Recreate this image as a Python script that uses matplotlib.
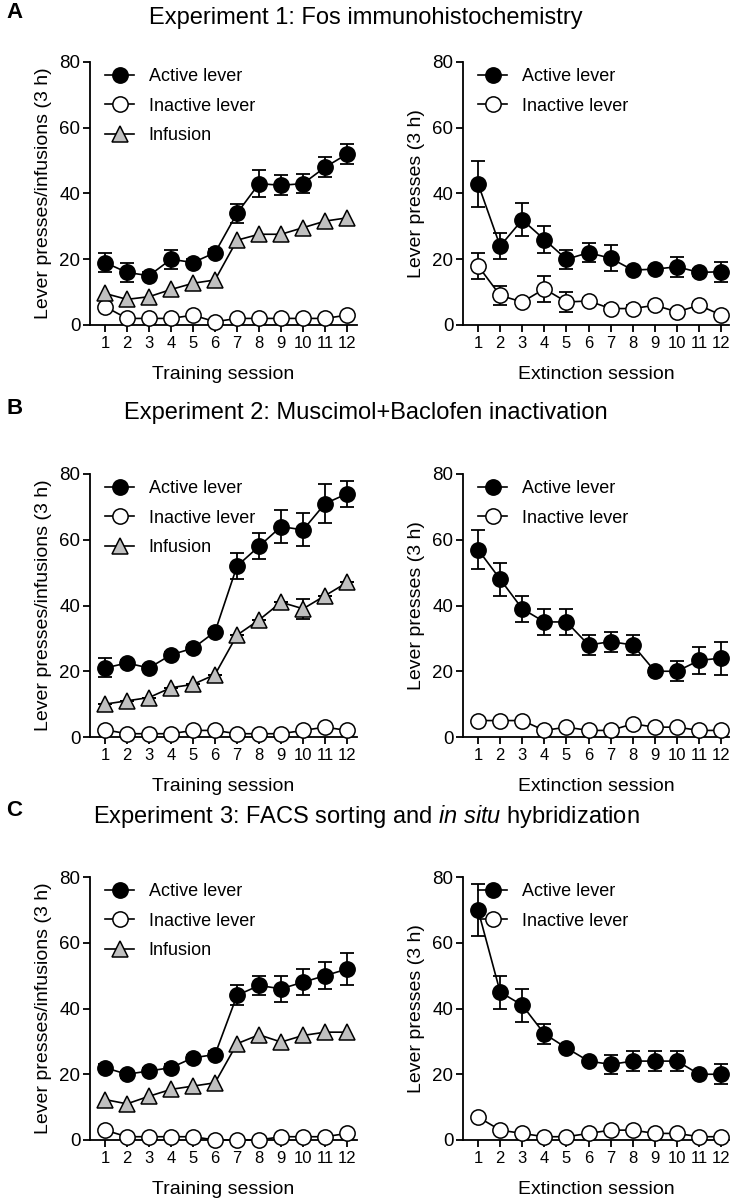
import numpy as np, matplotlib
matplotlib.use('Agg')
import matplotlib.pyplot as plt

matplotlib.rcParams.update({'font.size': 13, 'font.family': 'Liberation Sans',
                            'mathtext.fontset': 'custom',
                            'mathtext.rm': 'Liberation Sans',
                            'mathtext.it': 'Liberation Sans:italic'})

sessions = np.arange(1, 13)

# ---- Experiment 1 ----
e1_train_active = [19, 16, 15, 20, 19, 22, 34, 43, 42.5, 43, 48, 52]
e1_train_active_err = [2.8, 2.9, 1, 2.9, 1, 1, 2.9, 4, 3, 2.9, 3.1, 3]
e1_train_inactive = [5.6, 2, 2, 2, 3, 1, 2, 2, 2, 2, 2, 3]
e1_train_infusion = [9.6, 7.8, 8.6, 10.8, 12.7, 13.7, 25.8, 27.6, 27.6, 29.6, 31.6, 32.6]
e1_ext_active = [43, 24, 32, 26, 20, 22, 20.3, 16.7, 17, 17.7, 16, 16.2]
e1_ext_active_err = [7, 4, 5, 4, 2.9, 2.9, 3.9, 1, 1, 3, 1, 3]
e1_ext_inactive = [18, 9, 7, 11, 7, 7.3, 5, 5, 6, 4, 6, 3]
e1_ext_inactive_err = [4, 3, 1, 4, 3, 1, 1, 1, 1, 1, 1, 1]

# ---- Experiment 2 ----
e2_train_active = [21, 22.5, 21, 25, 27, 32, 52, 58, 64, 63, 71, 74]
e2_train_active_err = [2.9, 1, 1, 1, 1, 1, 4, 4, 5, 5, 6, 4]
e2_train_inactive = [2.2, 1, 1, 1, 2, 2, 1, 1, 1, 2, 3, 2]
e2_train_infusion = [10, 11, 12, 15, 16, 19, 31, 35.6, 41, 39, 43, 47]
e2_train_infusion_err = [0, 0, 0, 0, 0, 0, 0, 0, 0, 3, 0, 0]
e2_ext_active = [57, 48, 39, 35, 35, 28, 29, 28, 20, 20, 23.3, 24]
e2_ext_active_err = [6, 5, 4, 4, 4, 3, 3, 3, 1, 3, 4, 5]
e2_ext_inactive = [5, 5, 5, 2, 3, 2, 2, 4, 3, 3, 2, 2]

# ---- Experiment 3 ----
e3_train_active = [22, 20, 21, 22, 25, 26, 44, 47, 46, 48, 50, 52]
e3_train_active_err = [1, 1, 1, 1, 1, 1, 3, 3, 4, 4, 4, 5]
e3_train_inactive = [3, 1, 1, 1, 1, 0, 0, 0, 1, 1, 1, 2]
e3_train_infusion = [12.3, 11, 13.3, 15.4, 16.4, 17.4, 29.3, 32, 29.8, 31.8, 32.8, 32.8]
e3_ext_active = [70, 45, 41, 32.3, 28, 24, 23, 24, 24, 24, 20, 20]
e3_ext_active_err = [8, 5, 5, 3, 1, 1, 3, 3, 3, 3, 1, 3]
e3_ext_inactive = [7, 3, 2, 1, 1, 2, 3, 3, 2, 2, 1, 1]

titles = ['Experiment 1: Fos immunohistochemistry',
          'Experiment 2: Muscimol+Baclofen inactivation',
          'Experiment 3: FACS sorting and $\\it{in\\ situ}$ hybridization']
letters = ['A', 'B', 'C']

fig = plt.figure(figsize=(7.32, 12), dpi=100)

MS = 11
def series(ax, y, err, marker, fc, label):
    if err is not None:
        ax.errorbar(sessions, y, yerr=err, fmt='none', ecolor='black', elinewidth=1.3,
                    capsize=5, capthick=1.3, zorder=2, clip_on=False)
    ax.plot(sessions, y, marker=marker, color='black', mfc=fc, mec='black', ms=MS,
            mew=1.1, lw=1.2, label=label, zorder=3, clip_on=False)

def style(ax, xlabel, ylabel, right_end, leg_x):
    ax.set_xlim(0.32, right_end)
    ax.set_ylim(0, 80)
    ax.set_xticks(sessions)
    ax.set_yticks([0, 20, 40, 60, 80])
    for s in ['top', 'right']:
        ax.spines[s].set_visible(False)
    for s in ['left', 'bottom']:
        ax.spines[s].set_linewidth(1.3)
    ax.tick_params(axis='both', direction='out', width=1.3, length=5)
    ax.tick_params(axis='x', labelsize=12, pad=3)
    ax.tick_params(axis='y', labelsize=13.5, pad=2)
    ax.set_xlabel(xlabel, fontsize=14, labelpad=11)
    ax.set_ylabel(ylabel, fontsize=14, labelpad=5)
    ax.legend(loc='upper left', frameon=False, fontsize=13, handlelength=1.6,
              borderaxespad=0.0, handletextpad=0.8, labelspacing=0.7,
              bbox_to_anchor=(leg_x, 1.005))

train = [(e1_train_active, e1_train_active_err, e1_train_inactive, None, e1_train_infusion, None),
         (e2_train_active, e2_train_active_err, e2_train_inactive, None, e2_train_infusion, e2_train_infusion_err),
         (e3_train_active, e3_train_active_err, e3_train_inactive, None, e3_train_infusion, None)]
ext = [(e1_ext_active, e1_ext_active_err, e1_ext_inactive, e1_ext_inactive_err),
       (e2_ext_active, e2_ext_active_err, e2_ext_inactive, None),
       (e3_ext_active, e3_ext_active_err, e3_ext_inactive, None)]

bottoms = [1 - 325 / 1200, 1 - 737 / 1200, 1 - 1140 / 1200]
h = 263 / 1200
title_y = [1 - 18 / 1200, 1 - 413 / 1200, 1 - 816 / 1200]
letter_y = [1 - 13 / 1200, 1 - 408 / 1200, 1 - 810 / 1200]

for i in range(3):
    a, ae, ina, inae, inf, infe = train[i]
    ax1 = fig.add_axes([90 / 732, bottoms[i], 267 / 732, h])
    series(ax1, a, ae, 'o', 'black', 'Active lever')
    series(ax1, ina, inae, 'o', 'white', 'Inactive lever')
    series(ax1, inf, infe, '^', '#c0c0c0', 'Infusion')
    style(ax1, 'Training session', 'Lever presses/infusions (3 h)', 12.45, 0.03)

    a, ae, ina, inae = ext[i]
    ax2 = fig.add_axes([463 / 732, bottoms[i], 266 / 732, h])
    series(ax2, a, ae, 'o', 'black', 'Active lever')
    series(ax2, ina, inae, 'o', 'white', 'Inactive lever')
    style(ax2, 'Extinction session', 'Lever presses (3 h)', 12.35, 0.03)

    fig.text(0.5, title_y[i], titles[i], ha='center', va='center', fontsize=17)
    fig.text(6 / 732, letter_y[i], letters[i], ha='left', va='center', fontsize=16, fontweight='bold')

fig.savefig('out.png', dpi=100)
